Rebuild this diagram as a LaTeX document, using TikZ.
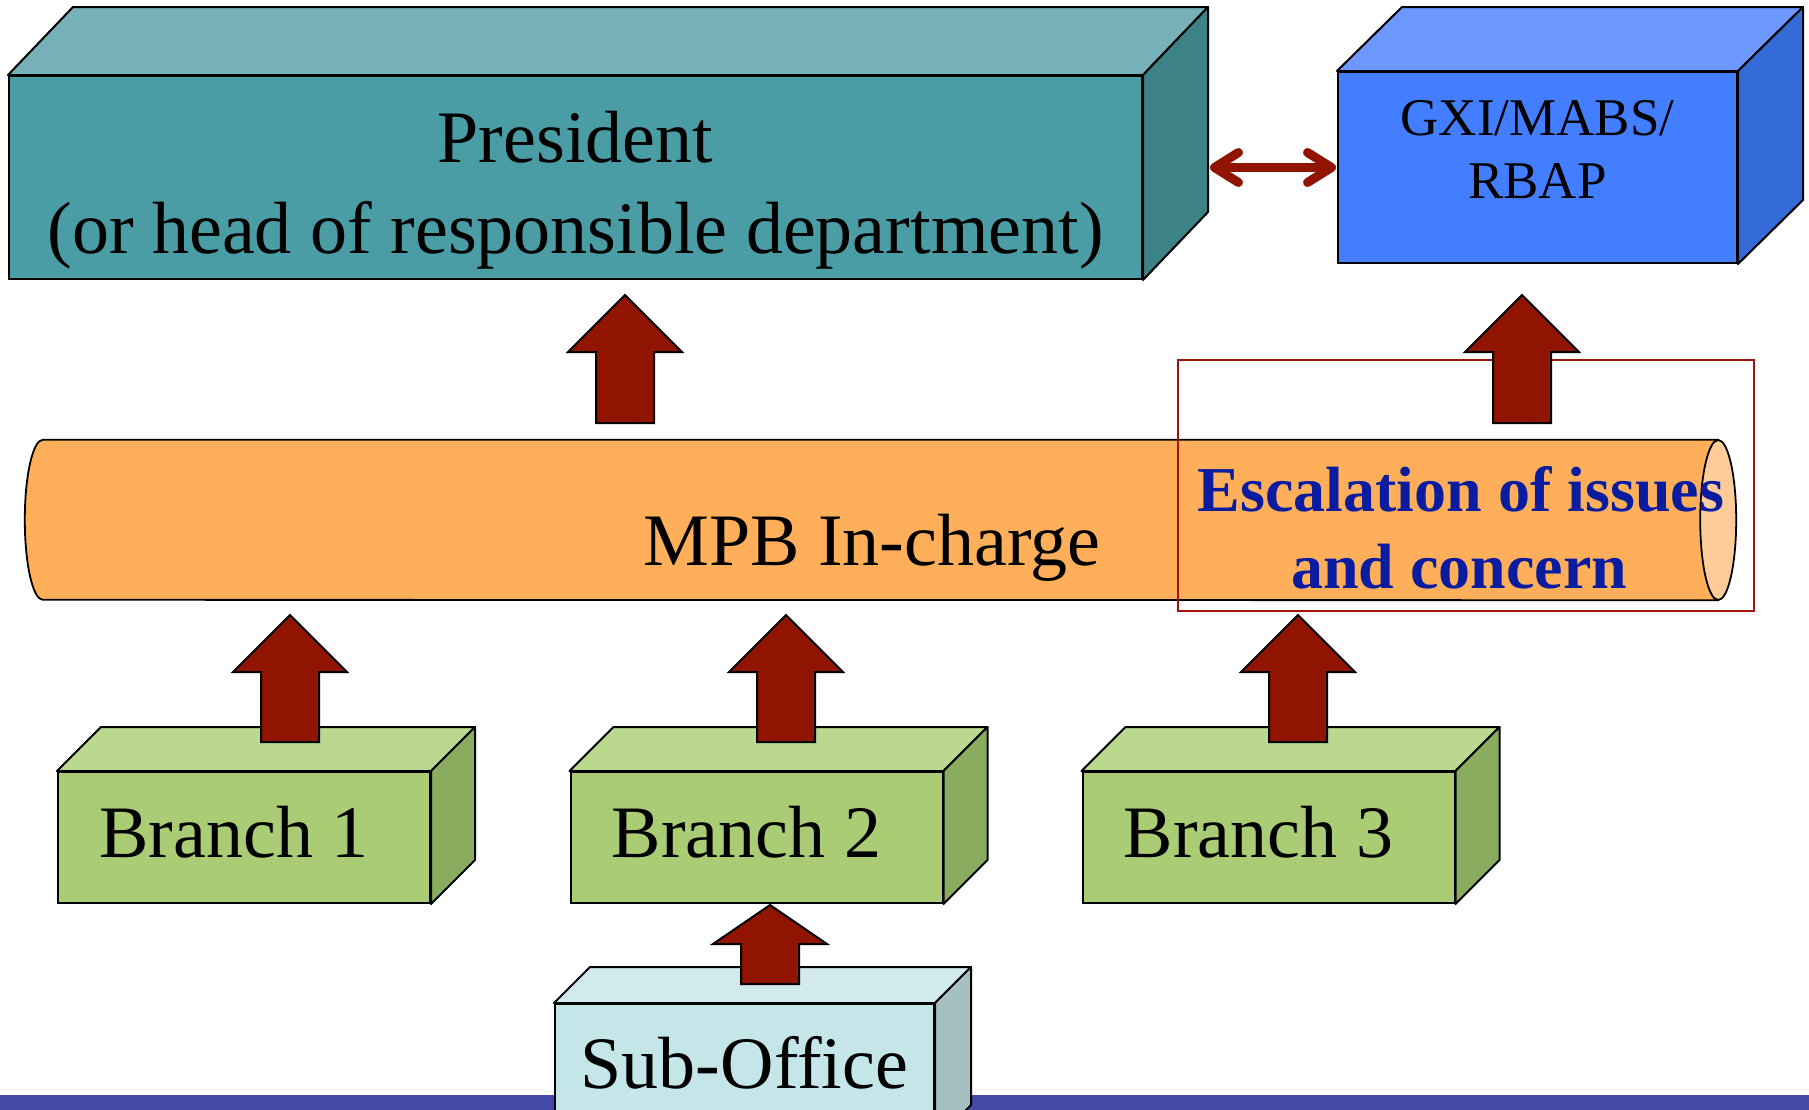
\documentclass[tikz,border=0pt]{standalone}
\usepackage{fontspec}
\setmainfont{Liberation Serif}
\usetikzlibrary{calc,arrows.meta}
\definecolor{presfront}{RGB}{74,157,164}
\definecolor{prestop}{RGB}{118,176,184}
\definecolor{presside}{RGB}{61,130,135}
\definecolor{gxifront}{RGB}{66,126,255}
\definecolor{gxitop}{RGB}{108,152,255}
\definecolor{gxiside}{RGB}{53,107,214}
\definecolor{brfront}{RGB}{170,204,117}
\definecolor{brtop}{RGB}{186,216,144}
\definecolor{brside}{RGB}{138,172,94}
\definecolor{subfront}{RGB}{196,230,232}
\definecolor{subtop}{RGB}{210,234,236}
\definecolor{subside}{RGB}{166,192,194}
\definecolor{arrred}{RGB}{145,20,0}
\definecolor{mpbfill}{RGB}{255,175,90}
\definecolor{mpbcap}{RGB}{255,204,153}
\definecolor{escblue}{RGB}{10,28,160}
\definecolor{barblue}{RGB}{68,73,168}
\definecolor{rectred}{RGB}{160,20,10}
\newcommand\bigfont{\fontsize{74pt}{91pt}\selectfont}
\newcommand\midfont{\fontsize{53pt}{63pt}\selectfont}
\newcommand\escfont{\fontsize{64pt}{77pt}\selectfont\bfseries}
% 3D box: name, centre, width, height, depth dx, depth dy, colour prefix
\newcommand\cubebox[7]{%
  \node[draw, line width=2pt, fill=#7front, minimum width=#3pt, minimum height=#4pt, inner sep=0pt] (#1) at (#2) {};
  \draw[facestyle, fill=#7top] (#1.north west) -- ++(#5,#6) -- ($(#1.north east)+(#5,#6)$) -- (#1.north east) -- cycle;
  \draw[facestyle, fill=#7side] (#1.north east) -- ++(#5,#6) -- ($(#1.south east)+(#5,#6)$) -- (#1.south east) -- cycle;
}
% block arrow pointing up: head height, tip coordinate, tail coordinate
\newcommand\blockup[3]{%
  \draw[blockarr] (#2) -- ++(57,-#1) -- ++(-28,0) -- ($(#3)+(29,0)$) -- ($(#3)+(-29,0)$) -- ($(#2)+(-29,-#1)$) -- ++(-28,0) -- cycle;
}
\begin{document}
\begin{tikzpicture}[x=1pt,y=1pt,
  facestyle/.style={line width=2pt, line join=round},
  blockarr/.style={draw=black, line width=2pt, fill=arrred, line join=miter},
  dblarrow/.style={draw=arrred, line width=9pt, {Straight Barb[round,length=24pt,width=30pt]}-{Straight Barb[round,length=24pt,width=30pt]}},
  lbl/.style={anchor=base, inner sep=0pt, font=\bigfont},
  gxilbl/.style={anchor=base, inner sep=0pt, font=\midfont},
  esclbl/.style={anchor=base, inner sep=0pt, font=\escfont, text=escblue}]
\useasboundingbox (0,0) rectangle (1809,-1109);
\clip (0,0) rectangle (1809,-1109);
\fill[white] (0,0) rectangle (1809,-1109);
\fill[barblue] (0,-1095) rectangle (1809,-1110);

% top boxes
\cubebox{pres}{575.5,-177.5}{1133}{203}{65}{68}{pres}
\cubebox{gxi}{1537.5,-167.5}{399}{191}{65}{64}{gxi}
\node[lbl] (pres1) at (575.5,-162) {President};
\node[lbl] (pres2) at (575.5,-253) {(or head of responsible department)};
\node[gxilbl] (gxi1) at (1537.5,-135) {GXI/MABS/};
\node[gxilbl] (gxi2) at (1537.5,-198) {RBAP};

% MPB cylinder
\node[minimum width=1675pt, minimum height=160pt, inner sep=0pt] (mpb) at (880.5,-520) {};
\draw[line width=1.8pt, fill=mpbfill] (mpb.north east) -- (mpb.north west) arc[start angle=90, end angle=270, x radius=18pt, y radius=80pt] -- (mpb.south east) -- cycle;
\draw[line width=1.8pt, fill=mpbcap] (mpb.east) ellipse[x radius=18pt, y radius=80pt];
\node[lbl] (mpbtext) at (872,-565) {MPB In-charge};

% escalation frame
\node[draw=rectred, line width=1.5pt, minimum width=576pt, minimum height=251pt, inner sep=0pt] (escbox) at (1466,-485.5) {};

% branches and sub-office
\cubebox{br1}{244,-837.5}{372}{131}{44}{44}{br}
\cubebox{br2}{756.5,-837.5}{372}{131}{44}{44}{br}
\cubebox{br3}{1268.5,-837.5}{372}{131}{44}{44}{br}
\cubebox{sub}{744.5,-1072}{379}{136}{36}{36}{sub}
\node[lbl] (br1t) at ($(br1.center)+(-10,-19.5)$) {Branch 1};
\node[lbl] (br2t) at ($(br2.center)+(-10,-19.5)$) {Branch 2};
\node[lbl] (br3t) at ($(br3.center)+(-10,-19.5)$) {Branch 3};
\node[lbl] (subt) at (744.5,-1088) {Sub-Office};

% arrow end points
\coordinate (t1) at (625,-295);  \coordinate (b1) at (625,-423);
\coordinate (t2) at (1522,-295); \coordinate (b2) at (1522,-423);
\coordinate (t3) at (290,-615);  \coordinate (b3) at (290,-742);
\coordinate (t4) at (786,-615);  \coordinate (b4) at (786,-742);
\coordinate (t5) at (1298,-615); \coordinate (b5) at (1298,-742);
\coordinate (t6) at (770,-905);  \coordinate (b6) at (770,-984);

\blockup{57}{t1}{b1}
\blockup{57}{t2}{b2}
\blockup{57}{t3}{b3}
\blockup{57}{t4}{b4}
\blockup{57}{t5}{b5}
\blockup{39}{t6}{b6}

% double arrow between president and GXI
\coordinate (presback) at ($(pres.north east)+(65,68)$);
\draw[dblarrow] ($(presback |- gxi.west)+(2,0)$) -- ($(gxi.west)+(-1,0)$);

% escalation text
\node[esclbl] (esc1) at (1461,-511) {Escalation of issues};
\node[esclbl] (esc2) at (1459,-588) {and concern};
\end{tikzpicture}
\end{document}
